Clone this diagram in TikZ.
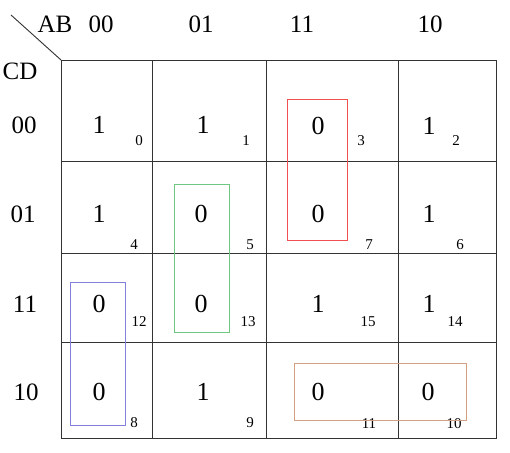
\documentclass[tikz,border=0pt]{standalone}
\usepackage{fontspec}
\setmainfont{Liberation Serif}
\begin{document}
\begin{tikzpicture}[x=1pt,y=-1pt,
  gridline/.style={draw=black!80,line width=0.9pt},
  lbl/.style={inner sep=0pt,font=\fontsize{25}{29}\selectfont},
  val/.style={inner sep=0pt,font=\fontsize{26}{30}\selectfont},
  idx/.style={inner sep=0pt,font=\fontsize{15}{18}\selectfont},
  grp/.style={line width=0.9pt}]
\useasboundingbox (0,0) rectangle (510,452);
% grid
\coordinate (corner) at (61,60);
\coordinate (diag) at (11,15);
\draw[gridline] (corner) rectangle (496,438);
\foreach \x in {152,266,398} \draw[gridline] (\x,60) -- (\x,438);
\foreach \y in {161,253,342} \draw[gridline] (61,\y) -- (496,\y);
\draw[gridline] (diag) -- (corner);
% header labels
\node[lbl] (ab) at (55,24) {AB};
\node[lbl] (c00) at (101,24) {00};
\node[lbl] (c01) at (201,24) {01};
\node[lbl] (c11) at (302,24) {11};
\node[lbl] (c10) at (430,24) {10};
\node[lbl] (cd) at (20,71) {CD};
\node[lbl] (r00) at (24,125) {00};
\node[lbl] (r01) at (23,214) {01};
\node[lbl] (r11) at (25,304) {11};
\node[lbl] (r10) at (26,392) {10};
% values
\node[val] (v0) at (99,125) {1};
\node[val] (v1) at (203,125) {1};
\node[val] (v3) at (318,126) {0};
\node[val] (v2) at (429,126) {1};
\node[val] (v4) at (99,214) {1};
\node[val] (v5) at (201,214) {0};
\node[val] (v7) at (318,214) {0};
\node[val] (v6) at (429,214) {1};
\node[val] (v12) at (99,304) {0};
\node[val] (v13) at (201,304) {0};
\node[val] (v15) at (318,304) {1};
\node[val] (v14) at (429,304) {1};
\node[val] (v8) at (99,392) {0};
\node[val] (v9) at (203,392) {1};
\node[val] (v11) at (318,392) {0};
\node[val] (v10) at (428,392) {0};
% indices
\node[idx] (i0) at (139,141) {0};
\node[idx] (i1) at (246,141) {1};
\node[idx] (i3) at (361,141) {3};
\node[idx] (i2) at (456,141) {2};
\node[idx] (i4) at (134,245) {4};
\node[idx] (i5) at (250,245) {5};
\node[idx] (i7) at (369,245) {7};
\node[idx] (i6) at (460,245) {6};
\node[idx] (i12) at (139,322) {12};
\node[idx] (i13) at (248,322) {13};
\node[idx] (i15) at (368,322) {15};
\node[idx] (i14) at (455,322) {14};
\node[idx] (i8) at (134,423) {8};
\node[idx] (i9) at (250,423) {9};
\node[idx] (i11) at (369,424) {11};
\node[idx] (i10) at (454,424) {10};
% groups
\draw[grp,draw={rgb,255:red,240;green,80;blue,80}] (287,99) rectangle (347,240);
\draw[grp,draw={rgb,255:red,110;green,200;blue,130}] (174,184) rectangle (229,332);
\draw[grp,draw={rgb,255:red,130;green,130;blue,220}] (70,282) rectangle (125,425);
\draw[grp,draw={rgb,255:red,210;green,160;blue,130}] (294,363) rectangle (466,420);
\end{tikzpicture}
\end{document}
